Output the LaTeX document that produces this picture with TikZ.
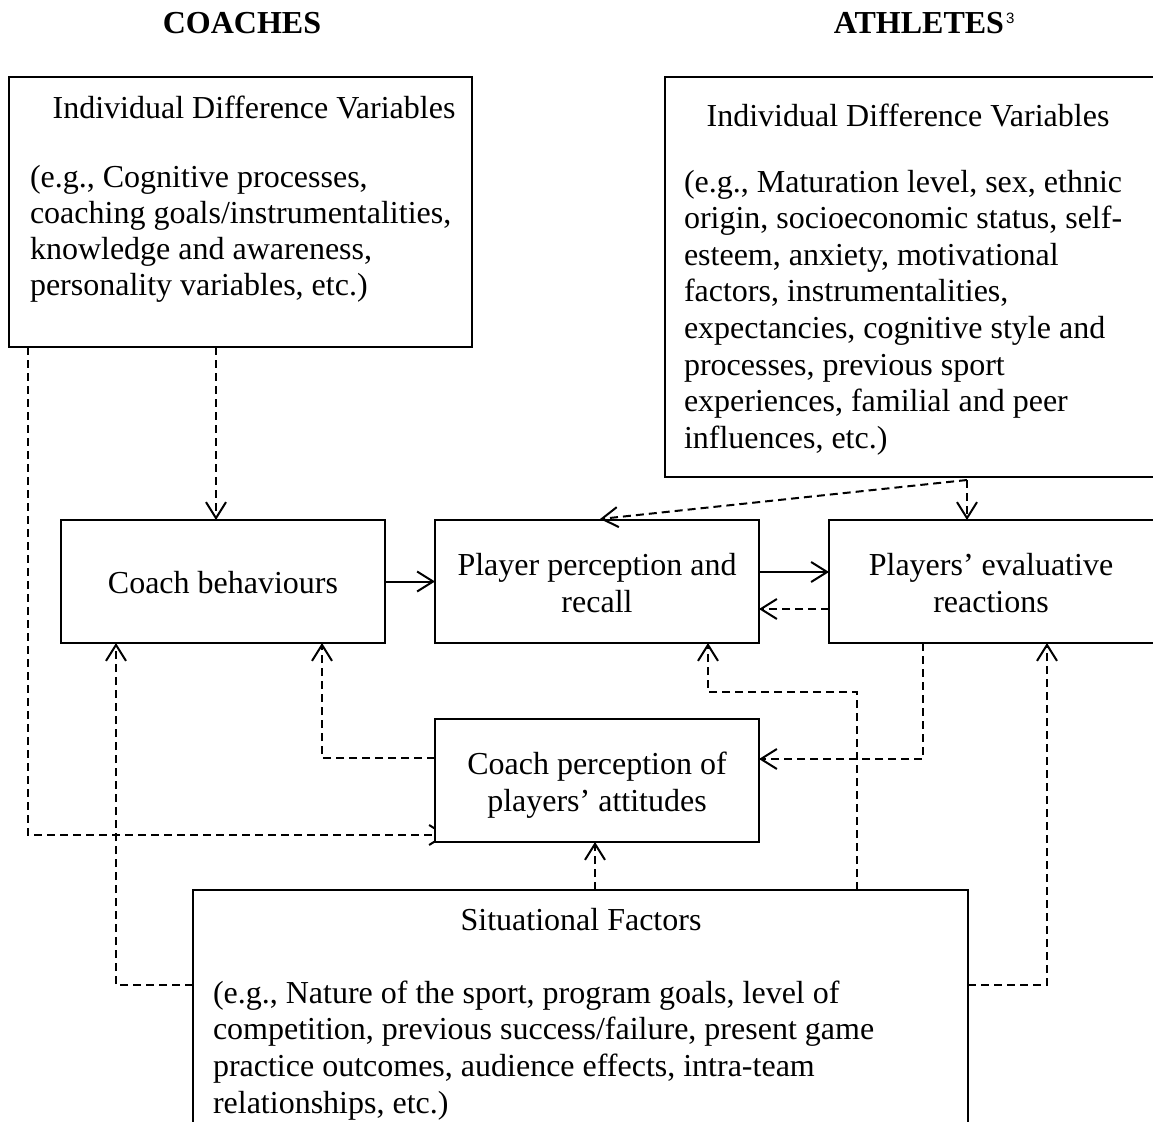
\documentclass[tikz,border=0pt]{standalone}
\usepackage{fontspec}
\setmainfont{Liberation Serif}
\newfontfamily\supfont{Liberation Sans}
\usetikzlibrary{arrows.meta,calc,backgrounds}
\begin{document}
\begin{tikzpicture}[x=1pt,y=-1pt,
  box/.style={draw, line width=1.3pt, fill=white, inner sep=0pt, outer sep=0pt, anchor=north west},
  txt/.style={font=\fontsize{32}{36.8}\selectfont, inner sep=0pt, outer sep=0pt},
  hd/.style={font=\fontsize{32}{36.8}\selectfont\bfseries, inner sep=0pt, outer sep=0pt},
  dsh/.style={line width=2pt, dash pattern=on 8pt off 5pt},
  sol/.style={line width=2pt},
  arr/.style={-{Straight Barb[length=16pt,width=20pt]}}
]
\clip (0,0) rectangle (1153,1121);

% headings
\node[hd, anchor=base] (coaches) at (242,34) {COACHES};
\node[hd, anchor=base east] (athletes) at (1004,34) {ATHLETES};
\node[anchor=base west, inner sep=0pt, font=\supfont\fontsize{15}{15}\selectfont] (sup3) at (1006,24) {3};

% boxes
\node[box, minimum width=463pt, minimum height=270pt] (ls) at (9,77) {};
\node[box, minimum width=495pt, minimum height=400pt] (rs) at (665,77) {};
\node[box, minimum width=324pt, minimum height=123pt] (cb) at (61,520) {};
\node[box, minimum width=324pt, minimum height=123pt] (pp) at (435,520) {};
\node[box, minimum width=326pt, minimum height=123pt] (pe) at (829,520) {};
\node[box, minimum width=324pt, minimum height=123pt] (cp) at (435,719) {};
\node[box, minimum width=775pt, minimum height=240pt] (sf) at (193,890) {};

% left box text
\node[txt, anchor=base] (lsh) at (254,118) {Individual Difference Variables};
\foreach \t [count=\i] in {{(e.g., Cognitive processes,},{coaching goals/instrumentalities,},{knowledge and awareness,},{personality variables, etc.)}}
  \node[txt, anchor=base west] (lsl\i) at (30,{187+(\i-1)*36.3}) {\t};

% right box text
\node[txt, anchor=base] (rsh) at (908,127) {Individual Difference Variables};
\foreach \t [count=\i] in {{(e.g., Maturation level, sex, ethnic},{origin, socioeconomic status, self-},{esteem, anxiety, motivational},{factors, instrumentalities,},{expectancies, cognitive style and},{processes, previous sport},{experiences, familial and peer},{influences, etc.)}}
  \node[txt, anchor=base west] (rsl\i) at (684,{192+(\i-1)*36.6}) {\t};

% middle boxes text
\node[txt, anchor=base] (cbt) at (223,593) {Coach behaviours};
\node[txt, anchor=base] (ppt1) at (597,575) {Player perception and};
\node[txt, anchor=base] (ppt2) at (597,612) {recall};
\node[txt, anchor=base] (pet1) at (991,575) {Players’ evaluative};
\node[txt, anchor=base] (pet2) at (991,612) {reactions};
\node[txt, anchor=base] (cpt1) at (597,774) {Coach perception of};
\node[txt, anchor=base] (cpt2) at (597,811) {players’ attitudes};

% situational text
\node[txt, anchor=base] (sfh) at (581,930) {Situational Factors};
\foreach \t [count=\i] in {{(e.g., Nature of the sport, program goals, level of},{competition, previous success/failure, present game},{practice outcomes, audience effects, intra-team},{relationships, etc.)}}
  \node[txt, anchor=base west] (sfl\i) at (213,{1003+(\i-1)*36.8}) {\t};

% athletes individual -> player perception (drawn over the box)
\coordinate (rsj) at ($(rs.south west)+(302,3)$);
\draw[dsh,arr] (rsj) -- ($(pp.north)+(3,-1)$);

\begin{pgfonlayer}{background}
  \fill[white] (0,0) rectangle (1153,1121);
  % individual (coach) -> coach behaviours
  \draw[dsh,arr] ($(ls.south west)+(207,0)$) -- ($(cb.north)+(-7,0)$);
  % individual (coach) -> coach perception (head mostly hidden)
  \draw[dsh,arr] ($(ls.south west)+(19,0)$) |- ($(cp.south west)+(12,-7)$);
  % coach perception -> coach behaviours
  \draw[dsh,arr] ($(cp.west)+(0,-22.5)$) -| ($(cb.south)+(99,0)$);
  % situational -> coach behaviours
  \draw[dsh,arr] ($(sf.north west)+(0,95)$) -| ($(cb.south)+(-107,0)$);
  % situational -> coach perception
  \draw[dsh,arr] ($(sf.north west)+(402,0)$) -- ($(cp.south)+(-2,0)$);
  % situational -> player perception
  \draw[dsh,arr] ($(sf.north west)+(664,0)$) -- ++(0,-198) -| ($(pp.south)+(111,0)$);
  % players' evaluative -> coach perception
  \draw[dsh,arr] ($(pe.south west)+(94,0)$) |- ($(cp.east)+(0,-21.5)$);
  % situational -> players' evaluative
  \draw[dsh,arr] ($(sf.north east)+(0,95)$) -| ($(pe.south west)+(218,0)$);
  % athletes individual -> players' evaluative
  \draw[dsh,arr] (rsj) -- ($(pe.north west)+(138,0)$);
  % solid and return arrows
  \draw[sol,arr] (cb.east) -- (cb.east -| pp.west);
  \draw[sol,arr] ($(pp.east)+(0,-9.5)$) -- ($(pe.west)+(0,-9.5)$);
  \draw[dsh,arr] ($(pe.west)+(0,27.5)$) -- ($(pp.east)+(0,27.5)$);
\end{pgfonlayer}
\end{tikzpicture}
\end{document}
